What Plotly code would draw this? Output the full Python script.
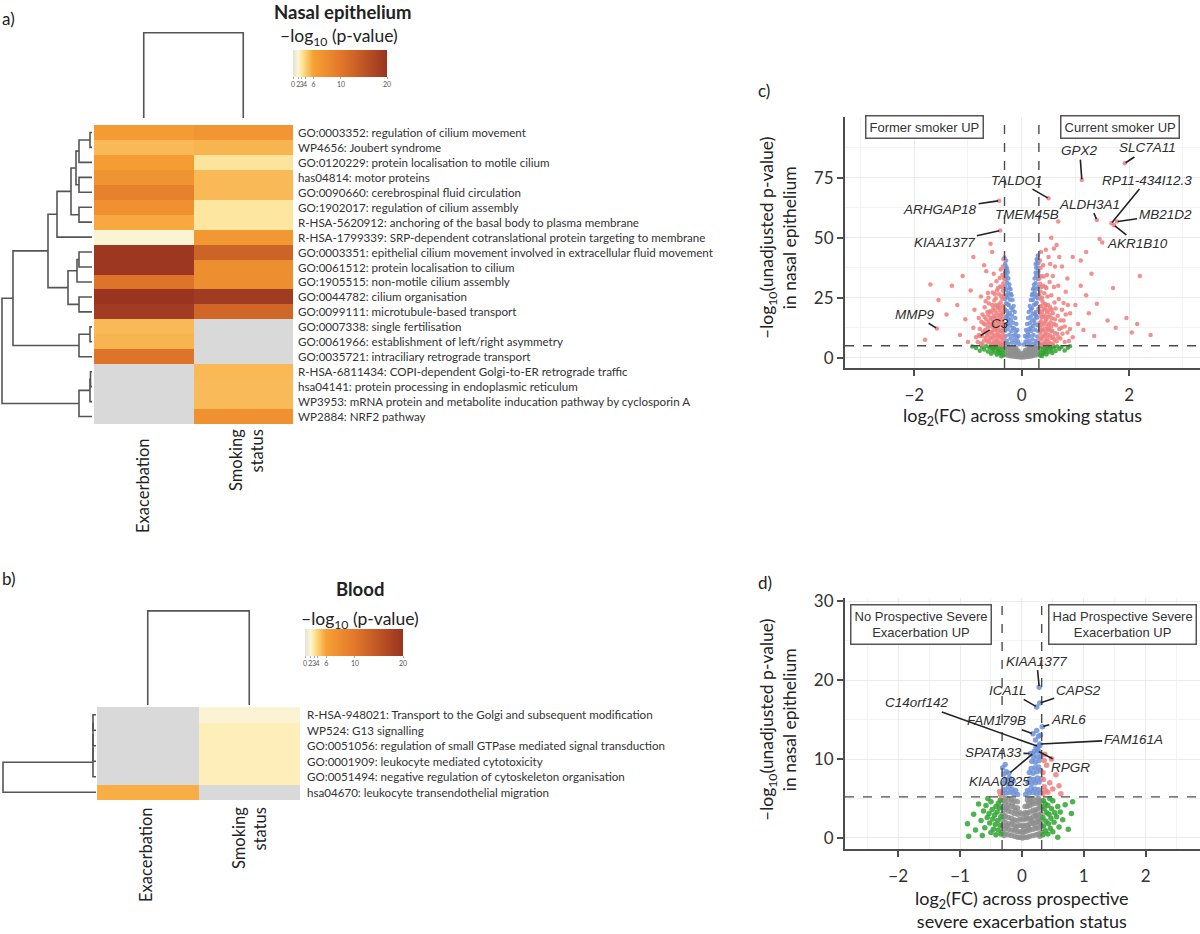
import numpy as np
import plotly.graph_objects as go

W, H = 1200, 934
def fx(p): return p / W
def fy(p): return 1 - p / H

# ------------------------------------------------------------------ data
columns = ["Exacerbation", "Smoking<br>status"]

nasal_terms = [
    "GO:0003352: regulation of cilium movement",
    "WP4656: Joubert syndrome",
    "GO:0120229: protein localisation to motile cilium",
    "has04814: motor proteins",
    "GO:0090660: cerebrospinal fluid circulation",
    "GO:1902017: regulation of cilium assembly",
    "R-HSA-5620912: anchoring of the basal body to plasma membrane",
    "R-HSA-1799339: SRP-dependent cotranslational protein targeting to membrane",
    "GO:0003351: epithelial cilium movement involved in extracellular fluid movement",
    "GO:0061512: protein localisation to cilium",
    "GO:1905515: non-motile cilium assembly",
    "GO:0044782: cilium organisation",
    "GO:0099111: microtubule-based transport",
    "GO:0007338: single fertilisation",
    "GO:0061966: establishment of left/right asymmetry",
    "GO:0035721: intraciliary retrograde transport",
    "R-HSA-6811434: COPI-dependent Golgi-to-ER retrograde traffic",
    "hsa04141: protein processing in endoplasmic reticulum",
    "WP3953: mRNA protein and metabolite inducation pathway by cyclosporin A",
    "WP2884: NRF2 pathway",
]
nasal_exac = [6.5, 5.0, 6.3, 7.2, 9.0, 7.5, 5.7, 1.8, 19.5, 19.5, 10.5, 20.0, 19.0,
              5.0, 5.2, 10.5, None, None, None, None]
nasal_smoke = [7.0, 5.2, 3.1, 5.0, 5.0, 3.0, 3.0, 6.8, 13.0, 7.8, 7.8, 19.0, 12.5,
               None, None, None, 5.0, 4.9, 4.9, 7.5]

blood_terms = [
    "R-HSA-948021: Transport to the Golgi and subsequent modification",
    "WP524: G13 signalling",
    "GO:0051056: regulation of small GTPase mediated signal transduction",
    "GO:0001909: leukocyte mediated cytotoxicity",
    "GO:0051494: negative regulation of cytoskeleton organisation",
    "hsa04670: leukocyte transendothelial migration",
]
blood_exac = [None, None, None, None, None, 5.5]
blood_smoke = [1.8, 2.5, 2.5, 2.5, 2.5, None]

# colour scale: value breaks, their place along the colour bar, colours
scale_breaks = [0, 2, 3, 4, 6, 10, 20]
scale_pos = [0.0, 0.055, 0.092, 0.128, 0.218, 0.51, 1.0]
scale_colors = ["#e2e2d8", "#fdf5d4", "#fde6a0", "#fcd278", "#f6a034", "#e2772a", "#9a3420"]
na_color = "#d9d9d9"

# dendrograms: (left, right, merge height); leaves are row indices
nasal_row_tree = ((((((((0, 1, 2), 2, 13), (3, 4, 13), 16), (5, 6, 13), 21), 7, 35),
                    (((8, 9, 13), 10, 15), (11, 12, 13), 24), 44),
                   ((13, 14, 2), 15, 13), 79),
                  (((16, 17, 1.5), 18, 2), 19, 13), 90)
blood_row_tree = (((((0, 1, 3), 2, 3), 3, 3), 4, 3), 5, 93)
col_tree = (0, 1, 1.0)

# volcano c: log2FC across smoking status vs -log10 p
c_fc_cut = 0.32
c_p_cut = 5.0
c_grey = [(-0.30,1.2),(-0.30,2.6),(-0.30,4.0),(-0.26,0.8),(-0.26,2.0),(-0.26,3.4),(-0.26,4.7),
          (-0.22,0.6),(-0.22,1.8),(-0.22,3.0),(-0.22,4.2),(-0.18,0.5),(-0.18,1.5),(-0.18,2.6),
          (-0.18,3.8),(-0.14,0.4),(-0.14,1.3),(-0.14,2.3),(-0.14,3.3),(-0.14,4.5),(-0.10,0.3),
          (-0.10,1.2),(-0.10,2.1),(-0.10,3.1),(-0.10,4.1),(-0.06,0.2),(-0.06,1.0),(-0.06,2.0),
          (-0.06,3.0),(-0.02,0.1),(-0.02,0.9),(-0.02,1.8),(0.02,0.1),(0.02,1.0),(0.02,1.9),
          (0.06,0.2),(0.06,1.1),(0.06,2.2),(0.06,3.1),(0.10,0.3),(0.10,1.3),(0.10,2.4),(0.10,3.5),
          (0.14,0.4),(0.14,1.4),(0.14,2.5),(0.14,3.6),(0.14,4.6),(0.18,0.5),(0.18,1.6),(0.18,2.8),
          (0.18,4.0),(0.22,0.7),(0.22,1.9),(0.22,3.1),(0.22,4.3),(0.26,0.9),(0.26,2.1),(0.26,3.5),
          (0.26,4.8),(0.30,1.3),(0.30,2.7),(0.30,4.1)]
c_green = [(-0.34,1.0),(-0.35,2.5),(-0.36,4.2),(-0.38,0.6),(-0.39,3.1),(-0.41,1.8),(-0.42,4.6),
           (-0.44,2.7),(-0.46,1.2),(-0.47,3.9),(-0.50,2.2),(-0.52,4.4),(-0.55,3.0),(-0.57,1.6),
           (-0.60,4.1),(-0.63,2.6),(-0.66,4.8),(-0.70,3.4),(-0.74,4.5),(-0.78,2.9),(-0.85,4.0),
           (-0.92,4.7),(-0.48,4.9),(-0.37,4.8),(-0.40,2.0),(-0.45,3.4),(-0.53,3.6),(-0.58,4.6),
           (0.34,0.9),(0.35,2.4),(0.36,4.3),(0.38,0.7),(0.39,3.2),(0.41,1.7),(0.42,4.5),(0.44,2.6),
           (0.46,1.3),(0.47,3.8),(0.50,2.3),(0.52,4.6),(0.55,3.1),(0.57,1.9),(0.60,4.2),(0.63,2.8),
           (0.66,4.7),(0.70,3.6),(0.74,4.4),(0.80,3.0),(0.86,4.1),(0.90,4.8),(0.49,4.9),(0.37,4.9),
           (0.40,2.0),(0.45,3.4),(0.53,3.8),(0.59,4.8)]
c_blue = [(-0.04,5.6),(-0.07,6.8),(-0.11,5.9),(-0.14,7.4),(-0.18,6.2),(-0.21,7.9),(-0.25,5.8),
          (-0.28,7.1),(-0.31,6.0),(-0.09,8.3),(-0.16,9.1),(-0.23,9.6),(-0.30,9.0),(-0.11,10.8),
          (-0.14,12.2),(-0.19,11.0),(-0.22,13.4),(-0.26,11.8),(-0.29,13.9),(-0.31,11.2),(-0.16,14.6),
          (-0.20,15.8),(-0.25,16.2),(-0.30,16.9),(-0.18,17.5),(-0.22,18.6),(-0.27,19.3),(-0.31,20.1),
          (-0.20,20.8),(-0.24,22.0),(-0.29,22.7),(-0.22,24.1),(-0.26,25.2),(-0.31,24.5),(-0.25,27.0),
          (-0.29,28.3),(-0.31,29.8),(-0.27,31.2),(-0.30,32.6),(-0.28,34.0),(-0.31,35.5),(-0.30,37.2),
          (-0.31,39.0),(-0.29,40.5),(-0.32,41.8),
          (-0.06,9.0),(-0.08,11.5),(-0.10,14.0),(-0.12,16.5),(-0.13,19.0),(-0.15,21.5),(-0.17,24.0),
          (-0.19,26.0),(-0.21,28.5),(-0.23,30.5),(-0.25,33.0),(-0.26,35.5),(-0.28,37.5),(-0.12,9.5),
          (-0.17,12.5),(-0.24,14.5),(-0.27,17.5),(-0.17,20.0),(-0.26,22.3),(-0.20,26.5),(-0.28,26.0),
          (-0.23,29.0),(-0.27,36.5),(-0.30,38.3),(-0.25,18.0),
          (0.04,5.5),(0.07,6.6),(0.10,5.8),(0.13,7.2),(0.17,6.0),(0.20,7.7),(0.24,5.9),(0.27,7.0),
          (0.31,6.2),(0.09,8.4),(0.15,9.0),(0.22,9.5),(0.29,8.8),(0.11,10.6),(0.14,12.0),(0.18,11.1),
          (0.21,13.2),(0.25,11.6),(0.29,13.6),(0.31,11.0),(0.15,14.4),(0.19,15.5),(0.24,16.0),
          (0.29,16.7),(0.17,17.2),(0.21,18.4),(0.26,19.0),(0.31,20.3),(0.19,20.6),(0.23,22.1),
          (0.28,22.9),(0.21,24.0),(0.25,25.4),(0.30,24.8),(0.24,27.2),(0.28,28.6),(0.31,29.6),
          (0.26,31.0),(0.30,32.8),(0.27,34.2),(0.31,35.8),(0.29,37.5),(0.31,39.3),(0.28,41.0),
          (0.30,42.6),
          (0.06,9.0),(0.08,11.5),(0.10,14.0),(0.12,16.5),(0.13,19.0),(0.15,21.5),(0.17,24.0),
          (0.19,26.0),(0.21,28.5),(0.23,30.5),(0.24,33.0),(0.26,35.5),(0.27,37.5),(0.28,39.5),
          (0.12,9.5),(0.17,12.5),(0.24,14.5),(0.27,17.5),(0.17,20.0),(0.26,22.3),(0.20,26.5),
          (0.28,26.0),(0.23,29.0),(0.26,39.0),(0.30,40.5),(0.25,18.0)]
c_red = [(-0.34,5.8),(-0.36,7.5),(-0.35,9.8),(-0.34,12.4),(-0.36,15.0),(-0.35,18.2),(-0.34,21.5),
         (-0.36,24.6),(-0.35,27.9),(-0.34,31.0),(-0.36,34.5),(-0.35,38.0),(-0.34,41.0),
         (-0.40,6.1),(-0.41,8.7),(-0.39,11.3),(-0.42,13.9),(-0.40,16.8),(-0.41,19.9),(-0.39,23.0),
         (-0.42,26.4),(-0.40,29.7),(-0.41,33.2),(-0.39,36.8),(-0.46,5.5),(-0.47,7.9),(-0.45,10.4),
         (-0.48,13.0),(-0.46,15.7),(-0.47,18.6),(-0.45,21.4),(-0.48,24.8),(-0.46,28.1),(-0.47,31.9),
         (-0.52,6.3),(-0.53,9.1),(-0.51,11.9),(-0.54,14.6),(-0.52,17.4),(-0.53,20.5),(-0.51,23.8),
         (-0.54,27.2),(-0.52,35.0),(-0.58,5.9),(-0.59,8.4),(-0.57,10.9),(-0.60,13.8),(-0.58,16.5),
         (-0.59,19.4),(-0.61,22.6),(-0.57,30.2),(-0.64,6.6),(-0.65,9.5),(-0.63,12.6),(-0.66,15.9),
         (-0.64,19.0),(-0.67,23.5),(-0.63,27.0),(-0.70,7.2),(-0.72,10.8),(-0.71,14.2),(-0.73,18.0),
         (-0.69,21.0),(-0.76,6.0),(-0.78,12.0),(-0.80,16.5),(-0.76,25.5),(-0.70,38.5),
         (-0.33,8.0),(-0.33,14.0),(-0.33,19.5),(-0.33,26.0),(-0.33,33.0),(-0.37,5.2),(-0.37,11.0),
         (-0.37,16.5),(-0.37,21.0),(-0.37,29.5),(-0.38,8.5),(-0.38,13.5),(-0.38,18.5),(-0.38,25.5),
         (-0.43,5.6),(-0.43,9.5),(-0.43,12.0),(-0.43,17.8),(-0.43,22.2),(-0.44,6.9),(-0.44,15.0),
         (-0.44,20.8),(-0.44,29.0),(-0.49,6.8),(-0.49,9.3),(-0.49,11.5),(-0.49,16.9),(-0.49,21.9),
         (-0.50,14.2),(-0.50,19.8),(-0.50,26.5),(-0.55,5.6),(-0.55,8.0),(-0.55,10.5),(-0.55,12.8),
         (-0.55,16.0),(-0.55,22.0),(-0.56,18.9),(-0.61,7.2),(-0.61,10.0),(-0.62,15.0),(-0.62,17.8),
         (-0.62,25.0),(-0.67,8.2),(-0.68,11.5),(-0.68,13.8),(-0.69,17.0),(-0.73,5.6),(-0.74,9.0),
         (-0.75,15.0),(-0.80,9.5),(-0.82,6.5),
         (-0.85,8.5),(-0.88,20.0),(-0.90,12.5),(-0.95,28.0),(-1.00,6.5),(-1.05,16.0),(-1.10,34.0),
         (-1.15,9.5),(-1.20,22.0),(-1.30,30.0),(-1.40,18.0),(-1.55,24.0),(-1.70,30.5),(-1.80,7.5),
         (-0.66,36.0),(-0.90,42.0),(-0.55,44.0),(-0.58,47.5),
         (0.34,5.7),(0.36,7.6),(0.35,10.0),(0.34,12.6),(0.36,15.2),(0.35,18.0),(0.34,21.3),
         (0.36,24.4),(0.35,27.6),(0.34,30.8),(0.36,34.0),(0.35,37.4),(0.34,40.5),(0.36,44.0),
         (0.40,6.0),(0.41,8.8),(0.39,11.5),(0.42,14.1),(0.40,17.0),(0.41,20.1),(0.39,23.3),
         (0.42,26.8),(0.40,30.0),(0.41,33.8),(0.40,38.5),(0.46,5.4),(0.47,8.0),(0.45,10.6),
         (0.48,13.2),(0.46,16.0),(0.47,19.0),(0.45,22.0),(0.48,25.5),(0.46,29.0),(0.47,34.5),
         (0.52,6.2),(0.53,9.2),(0.51,12.0),(0.54,14.8),(0.52,17.8),(0.53,21.0),(0.55,26.0),
         (0.52,31.5),(0.58,5.8),(0.59,8.6),(0.57,11.2),(0.60,14.0),(0.58,18.5),(0.61,23.0),
         (0.60,29.5),(0.65,6.8),(0.66,10.0),(0.64,13.5),(0.67,17.5),(0.69,24.5),(0.72,8.0),
         (0.74,12.5),(0.75,20.0),(0.78,15.5),(0.80,6.5),(0.82,27.5),(0.85,10.5),(0.90,18.5),
         (0.95,8.5),
         (0.33,8.0),(0.33,14.5),(0.33,19.5),(0.33,26.0),(0.33,33.0),(0.37,5.3),(0.37,11.2),
         (0.37,16.8),(0.37,21.5),(0.37,29.5),(0.38,8.4),(0.38,13.6),(0.38,19.0),(0.38,25.0),
         (0.43,5.6),(0.43,9.6),(0.43,12.2),(0.43,17.6),(0.43,22.5),(0.44,7.0),(0.44,15.2),
         (0.44,20.6),(0.44,29.5),(0.49,6.8),(0.49,9.5),(0.49,11.6),(0.49,17.0),(0.49,22.0),
         (0.50,14.0),(0.50,19.6),(0.55,5.5),(0.55,8.2),(0.55,11.0),(0.55,13.0),(0.56,16.4),
         (0.56,20.0),(0.61,7.5),(0.62,10.2),(0.62,16.0),(0.63,20.5),(0.68,8.5),(0.70,12.0),
         (0.72,15.5),(0.76,10.0),(0.80,13.0),(0.82,18.0),(0.88,7.0),(0.90,12.0),(0.86,22.0),
         (0.78,22.8),(0.68,30.0),(0.58,34.0),(0.62,38.0),(0.50,42.0),(0.45,45.0),(0.53,39.0),
         (0.70,42.0),
         (0.60,45.5),(0.55,50.0),(0.65,47.0),(0.75,38.0),(0.85,33.0),(1.00,22.0),
         (1.05,14.0),(1.10,30.0),(1.15,11.5),(1.20,26.0),(1.25,18.5),(1.30,35.0),(1.35,9.0),
         (1.40,22.5),(1.45,49.5),(1.50,48.0),(1.60,15.5),(1.70,29.0),(1.75,12.5),(1.95,16.5),
         (2.05,10.5),(2.15,14.0),(2.20,34.0),(2.40,9.5),(1.10,40.5),(0.95,42.0),(1.20,44.0)]
# labelled genes: name, log2FC, -log10 p, label x, label y
c_genes = [("SLC7A11", 1.92, 81.0, 2.35, 87.4),
           ("GPX2", 1.12, 74.0, 1.08, 86.3),
           ("RP11-434I12.3", 1.67, 56.0, 2.33, 74.0),
           ("ALDH3A1", 1.40, 57.4, 1.27, 64.0),
           ("MB21D2", 1.77, 56.7, 2.67, 59.5),
           ("AKR1B10", 1.72, 55.2, 2.16, 47.4),
           ("TALDO1", 0.50, 66.4, -0.09, 74.0),
           ("TMEM45B", 0.68, 56.7, 0.09, 59.5),
           ("ARHGAP18", -0.42, 65.4, -1.52, 61.8),
           ("KIAA1377", -0.40, 53.0, -1.43, 47.9),
           ("MMP9", -1.58, 12.2, -2.00, 18.1),
           ("C3", -0.78, 9.0, -0.40, 14.3)]

# volcano d: log2FC across prospective severe exacerbation status
d_fc_cut = 0.32
d_p_cut = 5.2
d_grey = [(-0.31,0.7),(-0.31,1.5),(-0.31,2.3),(-0.31,3.1),(-0.31,3.9),(-0.31,4.7),
          (-0.27,0.5),(-0.27,1.2),(-0.27,2.0),(-0.27,2.8),(-0.27,3.6),(-0.27,4.4),(-0.27,5.0),
          (-0.22,0.4),(-0.22,1.1),(-0.22,1.8),(-0.22,2.6),(-0.22,3.4),(-0.22,4.2),(-0.22,4.9),
          (-0.17,0.3),(-0.17,1.0),(-0.17,1.7),(-0.17,2.5),(-0.17,3.3),(-0.17,4.0),(-0.17,4.8),
          (-0.12,0.2),(-0.12,0.9),(-0.12,1.6),(-0.12,2.3),(-0.12,3.1),(-0.12,3.9),(-0.12,4.7),
          (-0.07,0.1),(-0.07,0.8),(-0.07,1.5),(-0.07,2.2),(-0.07,3.0),(-0.07,3.8),(-0.07,4.6),
          (-0.03,0.1),(-0.03,0.8),(-0.03,1.6),(-0.03,2.4),(-0.03,3.2),
          (0.01,0.0),(0.01,0.7),(0.01,1.5),(0.01,2.3),(0.01,3.0),
          (0.05,0.1),(0.05,0.8),(0.05,1.6),(0.05,2.4),(0.05,3.2),(0.05,4.0),
          (0.09,0.1),(0.09,0.9),(0.09,1.6),(0.09,2.4),(0.09,3.2),(0.09,4.0),(0.09,4.8),
          (0.13,0.2),(0.13,1.0),(0.13,1.8),(0.13,2.5),(0.13,3.3),(0.13,4.1),(0.13,4.9),
          (0.18,0.3),(0.18,1.1),(0.18,1.9),(0.18,2.7),(0.18,3.5),(0.18,4.3),(0.18,5.0),
          (0.23,0.4),(0.23,1.2),(0.23,2.0),(0.23,2.8),(0.23,3.6),(0.23,4.4),
          (0.27,0.5),(0.27,1.3),(0.27,2.1),(0.27,2.9),(0.27,3.7),(0.27,4.5),(0.27,5.0),
          (0.31,0.7),(0.31,1.5),(0.31,2.3),(0.31,3.1),(0.31,3.9),(0.31,4.7),
          (-0.29,0.3),(-0.29,2.7),(-0.24,1.5),(-0.24,3.8),(-0.15,2.1),(-0.15,4.4),(-0.10,1.2),
          (-0.10,3.5),(0.03,1.1),(0.07,2.8),(0.11,1.3),(0.11,4.4),(0.16,2.2),(0.16,4.6),
          (0.21,1.6),(0.21,3.2),(0.25,2.5),(0.25,4.8),(0.29,0.2),(0.29,1.9),(0.29,4.2)]
d_green = [(-0.34,0.5),(-0.35,1.6),(-0.34,2.7),(-0.36,3.8),(-0.35,4.8),(-0.38,1.0),(-0.39,2.2),
           (-0.40,3.3),(-0.38,4.4),(-0.42,0.4),(-0.43,1.7),(-0.44,2.9),(-0.42,4.0),(-0.46,1.1),
           (-0.47,2.4),(-0.48,3.6),(-0.50,0.7),(-0.52,1.9),(-0.53,3.1),(-0.50,4.6),(-0.56,2.6),
           (-0.58,4.1),(-0.60,1.3),(-0.62,3.4),(-0.66,2.2),(-0.70,4.3),(-0.75,1.0),(-0.78,3.0),
           (-0.86,0.2),(-0.88,1.8),(-0.64,0.3),(-0.55,5.0),
           (0.34,0.4),(0.35,1.5),(0.34,2.6),(0.36,3.7),(0.35,4.7),(0.38,0.9),(0.39,2.1),(0.40,3.2),
           (0.38,4.3),(0.42,0.5),(0.43,1.8),(0.44,3.0),(0.42,4.1),(0.46,1.2),(0.47,2.5),(0.48,3.7),
           (0.50,0.8),(0.52,2.0),(0.53,3.2),(0.50,4.7),(0.56,2.7),(0.58,4.0),(0.60,1.4),(0.62,3.3),
           (0.66,2.3),(0.70,4.2),(0.75,1.1),(0.80,3.1),(0.58,0.1),(0.45,5.0),(0.82,4.6)]
d_blue = [(-0.31,5.6),(-0.28,6.1),(-0.25,5.7),(-0.22,6.4),(-0.19,5.8),(-0.16,6.2),(-0.13,5.6),
          (-0.10,6.0),(-0.07,5.5),(-0.30,6.9),(-0.27,7.4),(-0.23,7.0),(-0.20,7.6),(-0.17,6.9),
          (-0.14,7.2),(-0.29,8.1),(-0.25,8.4),(-0.21,8.2),(-0.31,8.9),(-0.27,9.3),
          (0.06,5.5),(0.09,6.0),(0.12,5.7),(0.15,6.3),(0.18,5.8),(0.21,6.2),(0.24,5.6),(0.27,6.1),
          (0.30,5.7),(0.10,7.0),(0.13,7.5),(0.16,6.9),(0.19,7.4),(0.22,7.0),(0.25,7.6),(0.28,7.1),
          (0.31,7.5),(0.12,8.3),(0.15,8.8),(0.18,8.2),(0.21,8.9),(0.24,8.4),(0.27,9.0),(0.30,8.5),
          (0.16,9.7),(0.19,10.2),(0.22,9.6),(0.25,10.3),(0.28,9.8),(0.31,10.4),(0.20,11.0),
          (0.23,11.5),(0.26,11.1),(0.29,11.7),(0.22,12.4),(0.27,12.9),(0.24,13.6),(0.30,13.0)]
d_red = [(0.34,5.6),(0.36,6.5),(0.35,7.4),(0.34,8.3),(0.38,6.0),(0.40,9.2),(0.42,5.8),(0.45,7.0),
         (0.48,10.0),(0.50,6.2),(0.55,8.0),(0.60,6.6),(0.63,5.6),(0.36,9.8),(0.37,10.6),
         (-0.34,5.4),(-0.36,5.9)]
d_genes = [("KIAA1377", 0.28, 19.1, 0.24, 22.4),
           ("ICA1L", 0.24, 16.6, -0.22, 18.7),
           ("CAPS2", 0.29, 17.1, 0.91, 18.7),
           ("C14orf142", 0.26, 11.6, -1.70, 17.1),
           ("FAM179B", 0.18, 13.2, -0.41, 14.85),
           ("ARL6", 0.33, 14.1, 0.75, 15.0),
           ("FAM161A", 0.29, 11.9, 1.80, 12.5),
           ("SPATA33", 0.14, 10.7, -0.46, 10.8),
           ("RPGR", 0.26, 11.0, 0.78, 8.9),
           ("KIAA0825", 0.18, 10.7, -0.36, 7.15)]

# ------------------------------------------------------------------ styling
SANS = "Lato"
ARIAL = "Liberation Sans"
LINE = "#555555"
COL_GREY, COL_GREEN, COL_BLUE, COL_RED = "#8e8e8e", "#2fa52f", "#6d91d8", "#ef7f7f"

fig = go.Figure()
annotations = []
shapes = []


def to_pos(vals):
    v = np.array([np.nan if x is None else x for x in vals], dtype=float)
    out = np.interp(np.nan_to_num(v), scale_breaks, scale_pos)
    out[np.isnan(v)] = np.nan
    return out


def dendro(tree):
    hs, ps = [], []

    def rec(node):
        if isinstance(node, int):
            return float(node), 0.0
        left, right, h = node
        pl, hl = rec(left)
        pr, hr = rec(right)
        hs.extend([hl, h, h, hr, None])
        ps.extend([pl, pl, pr, pr, None])
        return (pl + pr) / 2, h

    rec(tree)
    return hs, ps


colorscale = [[p, c] for p, c in zip(scale_pos, scale_colors)]


def heat_panel(n, exac, smoke, terms, ax, cb_x, cb_y, label_x):
    xa = "x" if ax == 1 else "x%d" % ax
    ya = "y" if ax == 1 else "y%d" % ax
    z = np.column_stack([to_pos(exac), to_pos(smoke)])
    zna = np.where(np.isnan(z), 1.0, np.nan)
    fig.add_trace(go.Heatmap(z=zna, x=[0, 1], y=list(range(n)), xaxis=xa, yaxis=ya,
                             colorscale=[[0, na_color], [1, na_color]], showscale=False,
                             hoverinfo="skip"))
    fig.add_trace(go.Heatmap(
        z=z, x=[0, 1], y=list(range(n)), xaxis=xa, yaxis=ya, zmin=0, zmax=1,
        colorscale=colorscale,
        colorbar=dict(orientation="h", x=fx(cb_x[0]), xanchor="left", y=fy(cb_y), yanchor="top",
                      len=cb_x[1] - cb_x[0], lenmode="pixels", thickness=27,
                      thicknessmode="pixels", outlinewidth=0, xpad=0, ypad=0,
                      tickvals=scale_pos, ticktext=[str(b) for b in scale_breaks],
                      tickangle=0, ticks="outside", ticklen=2, tickcolor="#aaaaaa",
                      tickfont=dict(size=7, color="#555555", family=SANS))))
    for i, t in enumerate(terms):
        annotations.append(dict(text=t, xref="paper", yref=ya, x=fx(label_x), y=i,
                                xanchor="left", yanchor="middle", showarrow=False,
                                font=dict(size=11.6, color="#333333", family=SANS)))


def dendro_trace(tree, xa, ya, horizontal):
    hs, ps = dendro(tree)
    if horizontal:
        fig.add_trace(go.Scatter(x=hs, y=ps, xaxis=xa, yaxis=ya, mode="lines",
                                 line=dict(color=LINE, width=1.6), hoverinfo="skip"))
    else:
        fig.add_trace(go.Scatter(x=ps, y=hs, xaxis=xa, yaxis=ya, mode="lines",
                                 line=dict(color=LINE, width=1.6), hoverinfo="skip"))


# ---- panel a
heat_panel(20, nasal_exac, nasal_smoke, nasal_terms, 1, (293, 387), 50, 296)
dendro_trace(nasal_row_tree, "x2", "y2", True)
dendro_trace(col_tree, "x3", "y3", False)
# ---- panel b
heat_panel(6, blood_exac, blood_smoke, blood_terms, 4, (305, 403), 629, 305)
dendro_trace(blood_row_tree, "x5", "y5", True)
dendro_trace(col_tree, "x6", "y6", False)


def add_volcano(xa, ya, grey, green, blue, red, genes, gene_col, size):
    for pts, col in ((grey, COL_GREY), (green, COL_GREEN), (blue, COL_BLUE), (red, COL_RED)):
        fig.add_trace(go.Scatter(x=[p[0] for p in pts], y=[p[1] for p in pts], xaxis=xa, yaxis=ya,
                                 mode="markers", marker=dict(size=size, color=col, opacity=0.85,
                                                             line=dict(width=0)),
                                 hoverinfo="skip"))
    fig.add_trace(go.Scatter(x=[g[1] for g in genes], y=[g[2] for g in genes], xaxis=xa, yaxis=ya,
                             mode="markers", marker=dict(size=size, color=gene_col, opacity=0.85),
                             hoverinfo="skip"))
    for name, gx, gy, lx, ly in genes:
        annotations.append(dict(text="<i>%s</i>" % name, xref=xa, yref=ya, x=gx, y=gy,
                                ax=lx, ay=ly, axref=xa, ayref=ya, showarrow=True, arrowhead=0,
                                arrowwidth=1.6, arrowcolor="#222222", standoff=1,
                                font=dict(size=13.5, color="#2e2e2e", family=ARIAL)))


add_volcano("x7", "y7", c_grey, c_green, c_blue, c_red, c_genes, COL_RED, 4.5)
add_volcano("x8", "y8", d_grey, d_green, d_blue, d_red, d_genes, COL_BLUE, 5.5)

for xa, ya, fc, pc in (("x7", "y7", c_fc_cut, c_p_cut), ("x8", "y8", d_fc_cut, d_p_cut)):
    for xv in (-fc, fc):
        shapes.append(dict(type="line", xref=xa, yref=ya + " domain", x0=xv, x1=xv, y0=0, y1=1,
                           line=dict(color="#4d4d4d", width=1.4, dash="dash")))
    shapes.append(dict(type="line", xref=xa + " domain", yref=ya, x0=0, x1=1, y0=pc, y1=pc,
                       line=dict(color="#4d4d4d", width=1.4, dash="dash")))

# ------------------------------------------------------------------ text
def ann(text, x, y, size=17, xanchor="center", yanchor="middle", angle=0, align="center",
        family=SANS, color="#222222", **kw):
    d = dict(text=text, xref="paper", yref="paper", x=fx(x), y=fy(y), xanchor=xanchor,
             yanchor=yanchor, textangle=angle, align=align, showarrow=False,
             font=dict(size=size, family=family, color=color))
    d.update(kw)
    annotations.append(d)


ann("a)", 0, 18, xanchor="left")
ann("b)", 0, 578, xanchor="left")
ann("c)", 756, 90, xanchor="left")
ann("d)", 756, 582, xanchor="left")

ann("<b>Nasal epithelium</b>", 343, 12, size=18.5)
ann("–log<sub>10</sub> (p-value)", 339, 37, size=17.5)
ann("<b>Blood</b>", 360, 589, size=18.5)
ann("–log<sub>10</sub> (p-value)", 360, 620, size=17.5)

ann(columns[0], 143, 437, size=16.5, yanchor="top", angle=-90)
ann(columns[1], 246, 427, size=16.5, yanchor="top", angle=-90, align="right")
ann(columns[0], 146, 806, size=16.5, yanchor="top", angle=-90)
ann(columns[1], 249, 805, size=16.5, yanchor="top", angle=-90, align="right")

ytitle = "–log<sub>10</sub>(unadjusted p-value)<br>in nasal epithelium"
ann(ytitle, 778, 238, size=17.5, angle=-90)
ann(ytitle, 778, 720, size=17.5, angle=-90)
ann("log<sub>2</sub>(FC) across smoking status", 1022, 416, size=18)
ann("log<sub>2</sub>(FC) across prospective<br>severe exacerbation status", 1022, 909, size=18)

box = dict(bordercolor="#555555", borderwidth=1.5, borderpad=3, bgcolor="white")
ann("Former smoker UP", 924, 127, size=13, family=ARIAL, color="#333333", **box)
ann("Current smoker UP", 1120, 127, size=13, family=ARIAL, color="#333333", **box)
ann("No Prospective Severe<br>Exacerbation UP", 921, 624, size=13, family=ARIAL,
    color="#333333", **box)
ann("Had Prospective Severe<br>Exacerbation UP", 1122, 624, size=13, family=ARIAL,
    color="#333333", **box)

# ------------------------------------------------------------------ layout
hidden = dict(visible=False, showgrid=False, zeroline=False, fixedrange=True)
vol_ax = dict(showline=True, linecolor="#4d4d4d", linewidth=2, ticks="outside", ticklen=6,
              tickcolor="#4d4d4d", tickwidth=1.5, zeroline=False, showgrid=True,
              gridcolor="#ebebeb", gridwidth=1, automargin=False,
              tickfont=dict(size=17, family=SANS, color="#333333"))

layout = dict(
    width=W, height=H, margin=dict(l=0, r=0, t=0, b=0, pad=0, autoexpand=False),
    paper_bgcolor="white", plot_bgcolor="white", showlegend=False,
    xaxis=dict(hidden, domain=[fx(94), fx(293)], range=[-0.5, 1.5], anchor="y"),
    yaxis=dict(hidden, domain=[fy(424), fy(125)], range=[19.5, -0.5], anchor="x"),
    xaxis2=dict(hidden, domain=[0, fx(92)], range=[92, 0], anchor="y2"),
    yaxis2=dict(hidden, domain=[fy(424), fy(125)], range=[19.5, -0.5], anchor="x2"),
    xaxis3=dict(hidden, domain=[fx(94), fx(293)], range=[-0.5, 1.5], anchor="y3"),
    yaxis3=dict(hidden, domain=[fy(118), fy(31)], range=[0, 1.02], anchor="x3"),
    xaxis4=dict(hidden, domain=[fx(97), fx(300)], range=[-0.5, 1.5], anchor="y4"),
    yaxis4=dict(hidden, domain=[fy(800), fy(707)], range=[5.5, -0.5], anchor="x4"),
    xaxis5=dict(hidden, domain=[0, fx(96)], range=[96, 0], anchor="y5"),
    yaxis5=dict(hidden, domain=[fy(800), fy(707)], range=[5.5, -0.5], anchor="x5"),
    xaxis6=dict(hidden, domain=[fx(97), fx(300)], range=[-0.5, 1.5], anchor="y6"),
    yaxis6=dict(hidden, domain=[fy(705), fy(609)], range=[0, 1.02], anchor="x6"),
    xaxis7=dict(vol_ax, domain=[fx(845), 1], range=[-3.29, 3.32], anchor="y7", tickvals=[-2, 0, 2],
                ticklabelstandoff=5,
                minor=dict(dtick=1, showgrid=True, gridcolor="#f3f3f3", gridwidth=0.6, ticks="")),
    yaxis7=dict(vol_ax, domain=[fy(368), fy(117)], range=[-4.3, 100.3], anchor="x7",
                tickvals=[0, 25, 50, 75],
                minor=dict(dtick=12.5, tick0=0, showgrid=True, gridcolor="#f3f3f3",
                           gridwidth=0.6, ticks="")),
    xaxis8=dict(vol_ax, domain=[fx(845), 1], range=[-2.86, 2.88], anchor="y8",
                tickvals=[-2, -1, 0, 1, 2], ticklabelstandoff=5,
                minor=dict(dtick=0.5, showgrid=True, gridcolor="#f3f3f3", gridwidth=0.6, ticks="")),
    yaxis8=dict(vol_ax, domain=[fy(849), fy(598)], range=[-1.4, 30.4], anchor="x8",
                tickvals=[0, 10, 20, 30],
                minor=dict(dtick=5, showgrid=True, gridcolor="#f3f3f3", gridwidth=0.6, ticks="")),
    annotations=annotations, shapes=shapes,
)
fig.update_layout(**layout)
fig.write_html(
    "out.html",
    config={"displayModeBar": False},
    post_script=("document.documentElement.style.margin='0';document.body.style.margin='0';"
                 "document.body.style.overflow='hidden';"
                 "var g=document.getElementsByClassName('plotly-graph-div')[0];"
                 "g.style.position='fixed';g.style.left='0px';g.style.top='0px';"),
)
